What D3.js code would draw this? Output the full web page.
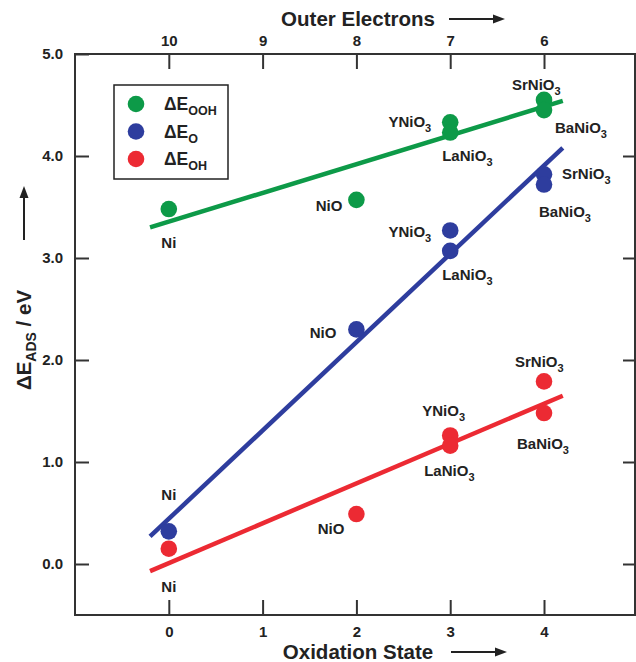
<!DOCTYPE html>
<html lang="en">
<head>
  <meta charset="UTF-8">
  <title>Adsorption energies vs oxidation state</title>
  <script src="https://d3js.org/d3.v7.min.js"></script>
  <style>
    body { margin: 0; background: #fff; }
    svg { font-family: "Liberation Sans", Arial, sans-serif; font-weight: bold; }
    .axis text { font-size: 15px; font-weight: bold; fill: #222; }
    .axis line { stroke: #333; stroke-width: 2; }
    .axis path { display: none; }
    .frame { fill: none; stroke: #333; stroke-width: 2; }
    .fit { stroke-width: 4.5; stroke-linecap: butt; }
    .lbl { font-size: 15px; fill: #222; }
    .title { font-size: 20.5px; fill: #222; }
  </style>
</head>
<body>
  <div id="chart"></div>
  <script>
    // data
    const compounds = ["Ni", "NiO", "YNiO3", "LaNiO3", "SrNiO3", "BaNiO3"];
    const oxidation = [0, 2, 3, 3, 4, 4];
    const eOOH = [3.48, 3.57, 4.33, 4.23, 4.55, 4.45];
    const eO   = [0.32, 2.30, 3.27, 3.07, 3.82, 3.72];
    const eOH  = [0.15, 0.49, 1.26, 1.16, 1.79, 1.48];

    // fitted lines (end points)
    const fitX   = [-0.2, 4.2];
    const fitOOH = [3.30, 4.54];
    const fitO   = [0.27, 4.08];
    const fitOH  = [-0.07, 1.65];

    const xTicks = [0, 1, 2, 3, 4];
    const topTicks = [10, 9, 8, 7, 6];
    const yTicks = [0, 1, 2, 3, 4, 5];

    // label placement: [dx, dy, anchor] relative to the point
    const offOOH = [[0, 39, "middle"], [-14, 11, "end"], [-19, 5, "end"], [-8, 28, "start"], [-32, -10, "start"], [11, 23, "start"]];
    const offO   = [[0, -31, "middle"], [-20, 9, "end"], [-19, 7, "end"], [-8, 29, "start"], [18, 5, "start"], [-5, 32, "start"]];
    const offOH  = [[0, 43, "middle"], [-12, 20, "end"], [-28, -19, "start"], [-26, 30, "start"], [-29, -14, "start"], [-27, 36, "start"]];

    const series = [
      { key: "OOH", values: eOOH, fit: fitOOH, off: offOOH, color: "#0d9a48" },
      { key: "O",   values: eO,   fit: fitO,   off: offO,   color: "#2e3d9e" },
      { key: "OH",  values: eOH,  fit: fitOH,  off: offOH,  color: "#ec2a33" }
    ];

    const W = 636, H = 662;
    const x = d3.scaleLinear().domain([-1, 4.97]).range([75, 635]);
    const y = d3.scaleLinear().domain([-0.5, 5]).range([615, 54]);
    const xTop = d3.scaleLinear().domain([11, 5.03]).range([75, 635]);

    const svg = d3.select("#chart").append("svg")
      .attr("width", W).attr("height", H);

    // axes with inward ticks
    svg.append("g").attr("class", "axis")
      .attr("transform", `translate(0,${y(-0.5)})`)
      .call(d3.axisBottom(x).tickValues(xTicks).tickFormat(d3.format("d"))
        .tickSizeInner(-15).tickSizeOuter(0).tickPadding(11));

    svg.append("g").attr("class", "axis")
      .attr("transform", `translate(0,${y(5)})`)
      .call(d3.axisTop(xTop).tickValues(topTicks).tickFormat(d3.format("d"))
        .tickSizeInner(-15).tickSizeOuter(0).tickPadding(8));

    svg.append("g").attr("class", "axis")
      .attr("transform", `translate(${x(-1)},0)`)
      .call(d3.axisLeft(y).tickValues(yTicks).tickFormat(d3.format(".1f"))
        .tickSizeInner(-14).tickSizeOuter(0).tickPadding(12));

    svg.append("g").attr("class", "axis")
      .attr("transform", `translate(${x(4.97)},0)`)
      .call(d3.axisRight(y).tickValues(yTicks.slice(0, 5)).tickFormat("")
        .tickSizeInner(-12).tickSizeOuter(0));

    svg.append("rect").attr("class", "frame")
      .attr("x", x(-1)).attr("y", y(5))
      .attr("width", x(4.97) - x(-1)).attr("height", y(-0.5) - y(5));

    // label with subscript digits
    function subText(sel, str, small) {
      const m = str.match(/^(.*?)(\d*)$/);
      sel.append("tspan").text(m[1]);
      if (m[2]) sel.append("tspan").attr("dy", 5).attr("font-size", small).text(m[2]);
    }

    series.forEach(s => {
      svg.append("line").attr("class", "fit")
        .attr("x1", x(fitX[0])).attr("y1", y(s.fit[0]))
        .attr("x2", x(fitX[1])).attr("y2", y(s.fit[1]))
        .attr("stroke", s.color);

      svg.selectAll(null).data(s.values).enter().append("circle")
        .attr("cx", (d, i) => x(oxidation[i]))
        .attr("cy", d => y(d))
        .attr("r", 8.3)
        .attr("fill", s.color);

      s.values.forEach((v, i) => {
        const o = s.off[i];
        const t = svg.append("text").attr("class", "lbl")
          .attr("x", x(oxidation[i]) + o[0])
          .attr("y", y(v) + o[1])
          .attr("text-anchor", o[2]);
        subText(t, compounds[i], 11);
      });
    });

    // legend
    const lg = svg.append("g").attr("transform", "translate(114,85)");
    lg.append("rect").attr("width", 114).attr("height", 94)
      .attr("fill", "#fff").attr("stroke", "#222").attr("stroke-width", 1.5);
    series.forEach((s, i) => {
      lg.append("circle").attr("cx", 22).attr("cy", 19 + i * 27.5).attr("r", 8.3).attr("fill", s.color);
      const t = lg.append("text").attr("x", 50).attr("y", 25 + i * 27.5)
        .attr("font-size", 17.5).attr("fill", "#222");
      t.append("tspan").text("ΔE");
      t.append("tspan").attr("dy", 5).attr("font-size", 12.5).text(s.key);
    });

    // axis titles
    const topTitle = svg.append("g");
    topTitle.append("text").attr("class", "title").attr("x", 358).attr("y", 26)
      .attr("text-anchor", "middle").text("Outer Electrons");
    topTitle.append("line").attr("x1", 449).attr("x2", 496).attr("y1", 19).attr("y2", 19)
      .attr("stroke", "#222").attr("stroke-width", 2);
    topTitle.append("path").attr("d", "M505,19 L493,14.5 L493,23.5 Z").attr("fill", "#222");

    svg.append("text").attr("class", "title").attr("x", 358).attr("y", 659)
      .attr("text-anchor", "middle").text("Oxidation State");
    svg.append("line").attr("x1", 451).attr("x2", 498).attr("y1", 652).attr("y2", 652)
      .attr("stroke", "#222").attr("stroke-width", 2);
    svg.append("path").attr("d", "M507,652 L495,647.5 L495,656.5 Z").attr("fill", "#222");

    const yt = svg.append("text").attr("class", "title")
      .attr("transform", "translate(31,340) rotate(-90)")
      .attr("text-anchor", "middle");
    yt.append("tspan").text("ΔE");
    yt.append("tspan").attr("dy", 5).attr("font-size", 14).text("ADS");
    yt.append("tspan").attr("dy", -5).text(" / eV");

    svg.append("line").attr("x1", 24).attr("x2", 24).attr("y1", 240).attr("y2", 196)
      .attr("stroke", "#222").attr("stroke-width", 2);
    svg.append("path").attr("d", "M24,186 L19.5,198 L28.5,198 Z").attr("fill", "#222");
  </script>
</body>
</html>
